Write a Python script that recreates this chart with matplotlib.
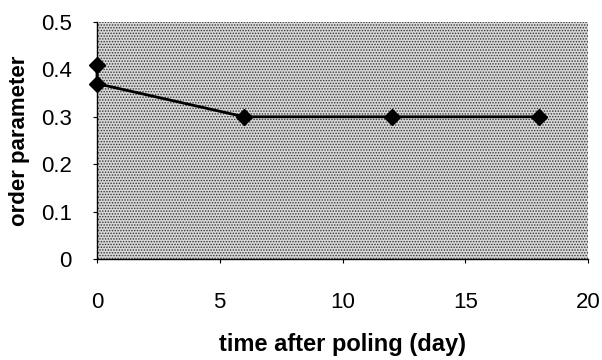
import matplotlib
matplotlib.use("Agg")

import matplotlib.pyplot as plt

days = [0, 0, 6, 12, 18]
order_param = [0.41, 0.37, 0.30, 0.30, 0.30]
x_ticks = [0, 5, 10, 15, 20]
y_ticks = [0, 0.1, 0.2, 0.3, 0.4, 0.5]
y_tick_labels = ["0", "0.1", "0.2", "0.3", "0.4", "0.5"]

plt.rcParams['font.family'] = ['Liberation Sans', 'DejaVu Sans']
plt.rcParams['hatch.linewidth'] = 0.7

fig = plt.figure(figsize=(6.02, 3.6), dpi=100)
ax = fig.add_axes([97 / 602, 1 - 259 / 360, (588 - 97) / 602, (259 - 22) / 360])

# stippled plot area
ax.patch.set_facecolor("#d8d8d8")
ax.patch.set_hatch("......")
ax.patch.set_edgecolor("#333333")

ax.plot(days, order_param, color="black", linewidth=2, marker="D",
        markersize=8, clip_on=False, zorder=3)

ax.set_xlim(0, 20)
ax.set_ylim(0, 0.5)
ax.set_xticks(x_ticks)
ax.set_yticks(y_ticks)
ax.set_yticklabels(y_tick_labels)

for side in ["top", "right"]:
    ax.spines[side].set_visible(False)
for side in ["left", "bottom"]:
    ax.spines[side].set_linewidth(1)
    ax.spines[side].set_color("black")

ax.tick_params(axis="x", direction="out", length=3, width=0.8, pad=21, labelsize=16)
ax.tick_params(axis="y", direction="out", length=3, width=0.8, pad=15, labelsize=16)

ax.set_xlabel("time after poling (day)", fontsize=17, fontweight="bold", labelpad=14)
ax.set_ylabel("order parameter", fontsize=16, fontweight="bold", labelpad=8)

plt.savefig("out.png", dpi=100)
plt.close(fig)
